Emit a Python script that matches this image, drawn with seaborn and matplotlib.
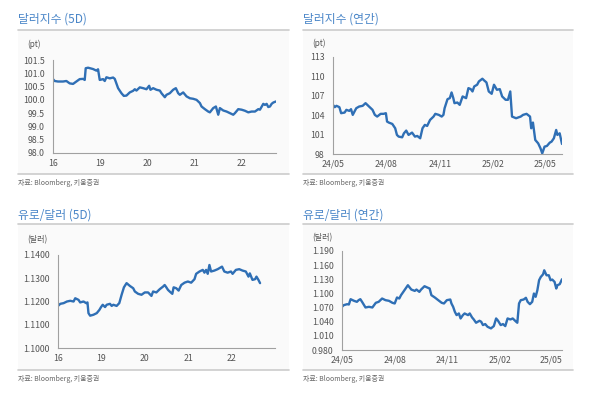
import numpy as np
import pandas as pd
import matplotlib
matplotlib.use("Agg")
import matplotlib.pyplot as plt
import seaborn as sns

sns.set_style("white")
plt.rcParams['font.family'] = ['Noto Sans CJK KR', 'DejaVu Sans']

# ---- data ----
# dollar index, 5 days (fraction of a day since the 16th)
usd5d_t = [0, .035, .106, .213, .284, .355, .426, .496, .567, .638,
           .674, .695, .745, .851, .922, .957, .993, 1.064, 1.099, 1.135,
           1.206, 1.277, 1.312, 1.383, 1.454, 1.504, 1.560, 1.631, 1.702, 1.738,
           1.773, 1.844, 1.915, 1.986, 2.043, 2.071, 2.128, 2.199, 2.270, 2.305,
           2.376, 2.411, 2.482, 2.553, 2.610, 2.660, 2.695, 2.766, 2.837, 2.908,
           2.979, 3.050, 3.121, 3.156, 3.227, 3.298, 3.333, 3.404, 3.461, 3.511,
           3.546, 3.617, 3.688, 3.759, 3.830, 3.865, 3.936, 4.007, 4.078, 4.149,
           4.220, 4.291, 4.362, 4.397, 4.468, 4.504, 4.539, 4.574, 4.610, 4.645,
           4.681, 4.738]
usd5d_v = [100.78, 100.71, 100.69, 100.69, 100.71, 100.62, 100.60, 100.69, 100.78, 100.79,
           100.75, 101.19, 101.21, 101.16, 101.10, 101.15, 100.75, 100.78, 100.71, 100.85,
           100.81, 100.84, 100.79, 100.44, 100.25, 100.15, 100.16, 100.28, 100.34, 100.40,
           100.35, 100.47, 100.44, 100.40, 100.53, 100.38, 100.44, 100.38, 100.35, 100.25,
           100.10, 100.19, 100.25, 100.38, 100.44, 100.25, 100.19, 100.28, 100.13, 100.06,
           100.04, 100.00, 99.88, 99.75, 99.65, 99.56, 99.53, 99.69, 99.75, 99.44,
           99.69, 99.60, 99.56, 99.50, 99.44, 99.50, 99.65, 99.63, 99.59, 99.53,
           99.56, 99.56, 99.65, 99.63, 99.85, 99.81, 99.85, 99.73, 99.75, 99.85,
           99.90, 99.94]
days5d_labels = ['16', '19', '20', '21', '22']

# dollar index, 1 year (days since 2024-05-01)
usd1y_d = [0, 3, 6, 11, 14, 20, 23, 28, 31, 34, 37, 40, 45, 51, 56, 59, 62, 68, 72, 76, 82, 87, 91,
           93, 96, 102, 107, 110, 113, 119, 122, 126, 130, 136, 141, 145, 150, 154, 158, 162, 167, 173, 176, 182,
           187, 190, 192, 197, 201, 204, 207, 209, 214, 218, 221, 223, 229, 233, 237, 240, 243, 248, 251, 257,
           260, 264, 268, 273,
           277, 282, 287, 291, 297, 301, 305, 308, 315, 323, 327, 333, 339, 341, 344, 348, 353, 357, 360, 364,
           368, 373, 376, 380, 384, 386, 390, 394]
usd1y_v = [105.6, 105.24, 105.45, 105.24, 104.31, 104.41, 104.83, 104.67, 104.93, 104.05, 104.57, 105.08,
           105.34, 105.45, 105.86, 105.6, 105.34, 104.83, 104.05, 103.79, 104.21, 104.21, 104.31,
           103.02, 102.86, 102.65, 101.98, 100.95, 100.69, 100.58, 101.2, 101.62, 100.95, 101.31, 100.69,
           100.79, 100.43, 101.98, 102.5, 102.34, 103.27, 103.79, 104.21, 104.05,
           103.79, 104.05, 105.08, 106.48, 106.64, 107.52, 106.64, 105.86, 105.96, 105.6, 106.38, 106.9,
           106.64, 108.19, 108.03, 107.67, 108.45, 108.71, 109.22, 109.64, 109.38, 109.07, 107.67, 107.31,
           108.71, 107.93, 108.03, 106.9, 106.38, 106.38, 107.67, 103.79, 103.53, 103.79, 104.05, 104.21,
           103.79, 101.98, 102.86, 100.17, 99.65, 98.88, 98.1, 99.14,
           99.24, 99.76, 99.91, 100.43, 101.72, 100.95, 101.2, 99.55]

# EUR/USD, 5 days
eur5d_t = [0, .053, .130, .206, .282, .359, .397, .473, .511, .588,
           .649, .679, .702, .740, .817, .893, .954, .992, 1.031, 1.084,
           1.122, 1.198, 1.237, 1.275, 1.351, 1.412, 1.466, 1.519, 1.580, 1.656,
           1.733, 1.771, 1.847, 1.924, 2.000, 2.076, 2.153, 2.191, 2.267, 2.344,
           2.420, 2.458, 2.496, 2.534, 2.573, 2.634, 2.664, 2.725, 2.779, 2.840,
           2.916, 2.992, 3.069, 3.145, 3.183, 3.260, 3.336, 3.374, 3.412, 3.450,
           3.489, 3.527, 3.603, 3.679, 3.779, 3.832, 3.908, 3.985, 4.023, 4.099,
           4.176, 4.252, 4.328, 4.389, 4.420, 4.481, 4.542, 4.573, 4.618, 4.656]
eur5d_v = [1.1181, 1.1190, 1.1193, 1.1200, 1.1203, 1.1200, 1.1214, 1.1207, 1.1196, 1.1200,
           1.1193, 1.1196, 1.1150, 1.1139, 1.1143, 1.1150, 1.1164, 1.1176, 1.1186, 1.1176,
           1.1186, 1.1190, 1.1181, 1.1186, 1.1181, 1.1193, 1.1229, 1.1261, 1.1279, 1.1267,
           1.1257, 1.1243, 1.1233, 1.1229, 1.1239, 1.1239, 1.1224, 1.1243, 1.1239, 1.1253,
           1.1264, 1.1271, 1.1261, 1.1250, 1.1243, 1.1233, 1.1261, 1.1257, 1.1247, 1.1271,
           1.1281, 1.1286, 1.1281, 1.1296, 1.1319, 1.1329, 1.1336, 1.1324, 1.1336, 1.1319,
           1.1357, 1.1329, 1.1333, 1.1339, 1.1350, 1.1329, 1.1324, 1.1329, 1.1319, 1.1336,
           1.1339, 1.1333, 1.1329, 1.1307, 1.1321, 1.1293, 1.1296, 1.1307, 1.1293, 1.1279]

# EUR/USD, 1 year (days since 2024-05-01)
eur1y_d = [0, 3, 9, 12, 15, 21, 26, 29, 32, 35, 41, 47, 53, 59, 64, 70, 76, 82, 88, 92,
           96, 100, 103, 109, 115, 121, 127, 130, 135, 138, 144, 149, 153, 156, 162, 168, 174, 178, 183, 189,
           191, 194, 197, 200, 204, 207, 211, 214, 220, 223, 227, 230, 234, 240, 243, 246, 250, 254, 260, 265,
           269, 272, 277, 281, 285, 289, 294, 298, 304, 306, 309, 312, 317, 321, 324, 328, 332, 335, 338, 341,
           344, 347, 351, 353, 357, 361, 364, 367, 371, 374, 376, 380, 384]
eur1y_v = [1.0716, 1.0751, 1.0772, 1.0765, 1.0878, 1.0843, 1.0822, 1.0857, 1.0878, 1.0822,
           1.0702, 1.0716, 1.0702, 1.0801, 1.0822, 1.0892, 1.0857, 1.0843, 1.0801, 1.0787,
           1.0914, 1.0892, 1.0963, 1.1068, 1.1174, 1.1082, 1.1054, 1.1082, 1.1033, 1.1082,
           1.1153, 1.1125, 1.1104, 1.0963, 1.0914, 1.0857, 1.0801, 1.0787, 1.0857, 1.0871,
           1.0787, 1.0716, 1.0610, 1.0540, 1.0575, 1.0469, 1.0540, 1.0575, 1.0540, 1.0575,
           1.0491, 1.0448, 1.0378, 1.0420, 1.0399, 1.0329, 1.0350, 1.0293, 1.0258, 1.0307,
           1.0469, 1.0427, 1.0329, 1.0350, 1.0307, 1.0469, 1.0448, 1.0469, 1.0399, 1.0378,
           1.0787, 1.0857, 1.0871, 1.0907, 1.0822, 1.0772, 1.0822, 1.0998, 1.0928, 1.1068,
           1.1280, 1.1350, 1.1406, 1.1491, 1.1385, 1.1385, 1.1280, 1.1294, 1.1245, 1.1104,
           1.1174, 1.1196, 1.1301]

month_ticks = ['2024-05-01', '2024-08-01', '2024-11-01', '2025-02-01', '2025-05-01']
month_labels = ['24/05', '24/08', '24/11', '25/02', '25/05']

BLUE = '#2f6fb5'
TITLE_C = '#4a86c8'
GRAY = '#555555'
W, H = 600, 396

fig = plt.figure(figsize=(6, 3.96), dpi=100)


def px_axes(left, top, right, bottom):
    return fig.add_axes([left / W, 1 - bottom / H, (right - left) / W, (bottom - top) / H])


def panel(x0, x1, y_title, y_line, y_src, title, unit, unit_y):
    # faint gray background box
    fig.patches.append(plt.Rectangle((x0 / W, 1 - y_src / H), (x1 - x0) / W, (y_src - y_line) / H,
                                     transform=fig.transFigure, color='#fafafa', zorder=-10, lw=0))
    fig.text(x0 / W, 1 - y_title / H, title, color=TITLE_C, fontsize=8.5, va='center', ha='left')
    fig.add_artist(plt.Line2D([x0 / W, x1 / W], [1 - y_line / H] * 2, color='#cccccc', lw=1.2))
    fig.add_artist(plt.Line2D([x0 / W, x1 / W], [1 - y_src / H] * 2, color='#cccccc', lw=1.2))
    fig.text(x0 / W, 1 - (y_src + 9) / H, '자료: Bloomberg, 키움증권', color='#666666',
             fontsize=5, va='center', ha='left')
    fig.text((x0 + 9) / W, 1 - unit_y / H, unit, color=GRAY, fontsize=5.8, va='center', ha='left')


def style(ax):
    ax.set_facecolor('none')
    for s in ['top', 'right']:
        ax.spines[s].set_visible(False)
    for s in ['left', 'bottom']:
        ax.spines[s].set_color('#a0a0a0')
        ax.spines[s].set_linewidth(0.8)
    ax.tick_params(axis='x', direction='in', length=3, color='#a0a0a0', labelsize=6.3,
                   labelcolor=GRAY, pad=4)
    ax.tick_params(axis='y', direction='out', length=2, color='#a0a0a0', labelsize=6.3,
                   labelcolor=GRAY, pad=4)
    ax.set_xlabel('')
    ax.set_ylabel('')


panel(18, 289, 19, 30, 174, '달러지수 (5D)', '(pt)', 44)
panel(303, 573, 19, 30, 174, '달러지수 (연간)', '(pt)', 43)
panel(18, 289, 215, 224, 370, '유로/달러 (5D)', '(달러)', 240)
panel(303, 573, 215, 224, 370, '유로/달러 (연간)', '(달러)', 238)

start = pd.Timestamp('2024-05-01')
tick_days = [(pd.Timestamp(d) - start).days for d in month_ticks]

# top-left
ax1 = px_axes(53, 60, 276, 153)
sns.lineplot(x=usd5d_t, y=usd5d_v, ax=ax1, color=BLUE, linewidth=1.7)
ax1.set_xlim(0, 4.738)
ax1.set_ylim(98.0, 101.5)
ax1.set_yticks(np.arange(98.0, 101.51, 0.5))
ax1.set_yticklabels([f'{v:.1f}' for v in np.arange(98.0, 101.51, 0.5)])
ax1.set_xticks(range(len(days5d_labels)))
ax1.set_xticklabels(days5d_labels)
style(ax1)

# top-right
ax2 = px_axes(333, 57, 562, 154)
sns.lineplot(x=usd1y_d, y=usd1y_v, ax=ax2, color=BLUE, linewidth=1.7)
ax2.set_xlim(0, 394)
ax2.set_ylim(98, 113)
ax2.set_yticks(range(98, 114, 3))
ax2.set_xticks(tick_days)
ax2.set_xticklabels(month_labels)
style(ax2)

# bottom-left
ax3 = px_axes(58, 255, 275, 348)
sns.lineplot(x=eur5d_t, y=eur5d_v, ax=ax3, color=BLUE, linewidth=1.7)
ax3.set_xlim(0, 4.985)
ax3.set_ylim(1.1, 1.14)
ax3.set_yticks(np.arange(1.1, 1.14001, 0.01))
ax3.set_yticklabels([f'{v:.4f}' for v in np.arange(1.1, 1.14001, 0.01)])
ax3.set_xticks(range(len(days5d_labels) + 1))
ax3.set_xticklabels(days5d_labels + [''])
style(ax3)

# bottom-right
ax4 = px_axes(342, 251, 562, 350)
sns.lineplot(x=eur1y_d, y=eur1y_v, ax=ax4, color=BLUE, linewidth=1.7)
ax4.set_xlim(0, 384)
ax4.set_ylim(0.98, 1.19)
ax4.set_yticks(np.arange(0.98, 1.1901, 0.03))
ax4.set_yticklabels([f'{v:.3f}' for v in np.arange(0.98, 1.1901, 0.03)])
ax4.set_xticks(tick_days)
ax4.set_xticklabels(month_labels)
style(ax4)

fig.savefig('out.png', dpi=100)
